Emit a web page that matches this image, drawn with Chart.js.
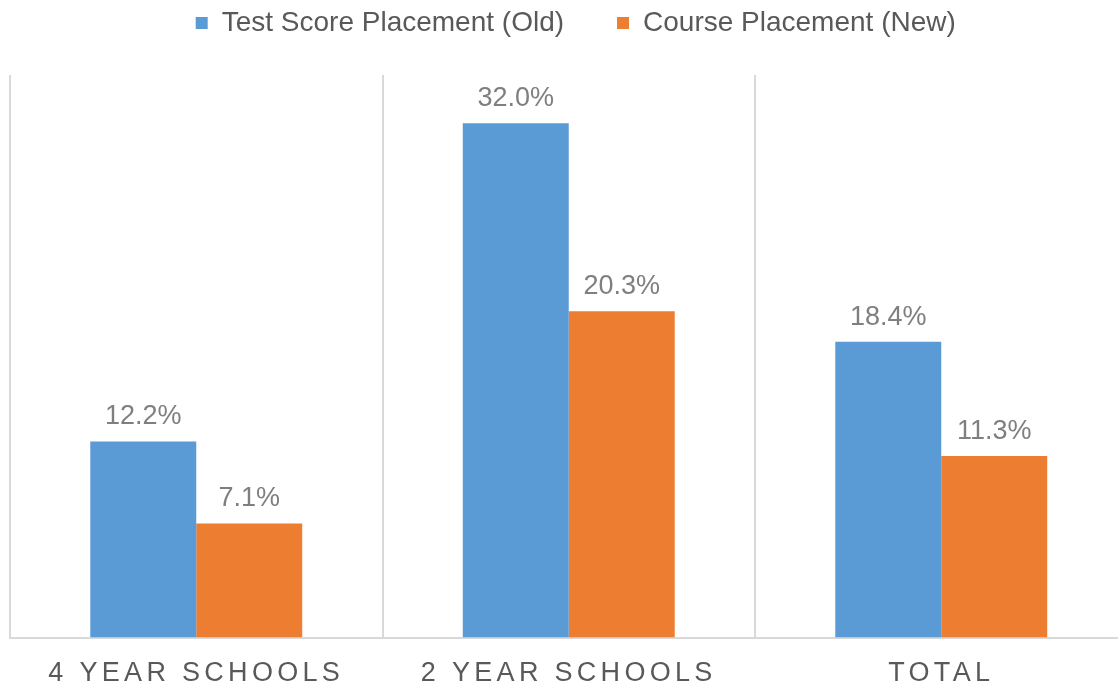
<!DOCTYPE html>
<html>
<head>
<meta charset="utf-8">
<script src="https://cdn.jsdelivr.net/npm/chart.js@4.4.1/dist/chart.umd.min.js"></script>
<style>
  html, body { margin: 0; padding: 0; background: #ffffff; overflow: hidden; }
  #wrap { width: 1141px; height: 687px; }
</style>
</head>
<body>
<div id="wrap"><canvas id="c" width="1141" height="687"></canvas></div>
<script>
// ---- data ----
const categories = ['4 YEAR SCHOOLS', '2 YEAR SCHOOLS', 'TOTAL'];
const seriesNames = ['Test Score Placement (Old)', 'Course Placement (New)'];
const oldValues = [12.2, 32.0, 18.4];
const newValues = [7.1, 20.3, 11.3];
const yMin = 0;
const yMax = 35;

// ---- style ----
const BLUE = '#5B9BD5';
const ORANGE = '#ED7D31';
const GRID = '#d9d9d9';
const TEXT_DARK = '#595959';
const TEXT_VAL = '#7f7f7f';
const FONT = "'Liberation Sans', Arial, Helvetica, sans-serif";

Chart.defaults.font.family = FONT;
Chart.defaults.color = TEXT_DARK;

const valueLabels = {
  id: 'valueLabels',
  afterDatasetsDraw(chart) {
    const ctx = chart.ctx;
    ctx.save();
    ctx.font = '27px ' + FONT;
    ctx.fillStyle = TEXT_VAL;
    ctx.textAlign = 'center';
    ctx.textBaseline = 'alphabetic';
    chart.data.datasets.forEach((ds, di) => {
      const meta = chart.getDatasetMeta(di);
      meta.data.forEach((bar, i) => {
        ctx.fillText(ds.data[i].toFixed(1) + '%', bar.x, bar.y - 17);
      });
    });
    ctx.restore();
  }
};

const LEGEND_H = 75;
const LEGEND_DX = 7;
const LEGEND_DY = -44;

const layoutTweaks = {
  id: 'layoutTweaks',
  beforeLayout(chart) {
    const lg = chart.legend;
    if (lg && !lg.__patched) {
      const origFit = lg.fit;
      lg.fit = function () { origFit.call(this); this.height = LEGEND_H; };
      const origDraw = lg._draw;
      lg._draw = function () {
        const c = this.ctx;
        c.save();
        c.translate(LEGEND_DX, LEGEND_DY);
        origDraw.call(this);
        c.restore();
      };
      lg.__patched = true;
    }
  },
  beforeDraw(chart) {
    const xs = chart.scales.x;
    if (xs && !xs.__ls) {
      const orig = xs.drawLabels;
      xs.drawLabels = function (area) {
        const c = this.ctx;
        c.save();
        try { c.letterSpacing = '4.3px'; } catch (e) {}
        orig.call(this, area);
        c.restore();
      };
      xs.__ls = true;
    }
  }
};

new Chart(document.getElementById('c'), {
  type: 'bar',
  data: {
    labels: categories,
    datasets: [
      { label: seriesNames[0], data: oldValues, backgroundColor: BLUE, borderWidth: 0 },
      { label: seriesNames[1], data: newValues, backgroundColor: ORANGE, borderWidth: 0 }
    ]
  },
  options: {
    responsive: false,
    animation: false,
    events: [],
    layout: { padding: { top: 0, left: 10, right: 13.5, bottom: -23 } },
    datasets: {
      bar: { categoryPercentage: 0.569, barPercentage: 1.0 }
    },
    scales: {
      x: {
        offset: true,
        grid: { display: true, offset: true, color: GRID, lineWidth: 2, drawTicks: false },
        border: { display: true, color: GRID, width: 2 },
        ticks: { color: TEXT_DARK, font: { size: 27, lineHeight: 1.2 }, padding: 20, maxRotation: 0, autoSkip: false }
      },
      y: {
        display: false,
        min: yMin,
        max: yMax
      }
    },
    plugins: {
      legend: {
        display: true,
        position: 'top',
        labels: {
          boxWidth: 12,
          boxHeight: 12,
          padding: 53,
          color: TEXT_DARK,
          font: { size: 28 }
        }
      },
      tooltip: { enabled: false }
    }
  },
  plugins: [valueLabels, layoutTweaks]
});
</script>
</body>
</html>
